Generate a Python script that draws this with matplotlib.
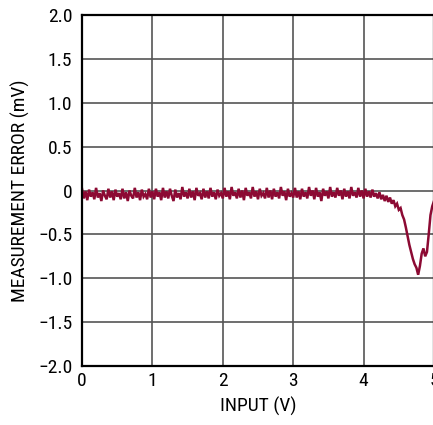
import numpy as np
import matplotlib
matplotlib.use("Agg")
import matplotlib.pyplot as plt
from matplotlib import font_manager

# ---- data ----
x_step = 0.025  # V between samples
err_0_1 = [0.02, -0.09, -0.01, -0.11, 0.01, -0.07, -0.02, -0.10, 0.03, -0.08,
           -0.03, -0.12, 0.00, -0.06, -0.10, 0.02, -0.08, -0.01, -0.11, 0.01,
           -0.07, -0.03, -0.10, 0.02, -0.09, -0.02, -0.12, 0.00, -0.06, -0.09,
           0.03, -0.08, -0.02, -0.11, 0.01, -0.07, -0.04, -0.10, 0.02, -0.08,
           -0.01]
err_1_2 = [-0.10, 0.02, -0.07, -0.02, -0.11, 0.03, -0.08, -0.01, -0.09, 0.02,
           -0.06, -0.12, 0.01, -0.08, -0.03, -0.10, 0.04, -0.07, -0.02, -0.09,
           0.02, -0.08, -0.01, -0.11, 0.03, -0.06, -0.03, -0.10, 0.02, -0.08,
           -0.01, -0.09, 0.03, -0.07, -0.02, -0.10, 0.01, -0.06, -0.03, -0.09]
err_2_3 = [0.03, -0.07, -0.01, -0.10, 0.04, -0.06, -0.02, -0.09, 0.02, -0.08,
           0.00, -0.11, 0.03, -0.06, -0.02, -0.09, 0.04, -0.07, -0.01, -0.10,
           0.02, -0.06, -0.03, -0.09, 0.03, -0.08, 0.00, -0.10, 0.02, -0.07,
           -0.02, -0.09, 0.04, -0.06, -0.01, -0.11, 0.02, -0.07, -0.03, -0.08]
err_3_4 = [0.03, -0.08, -0.01, -0.10, 0.02, -0.07, -0.02, -0.09, 0.04, -0.06,
           0.00, -0.10, 0.03, -0.07, -0.02, -0.12, 0.02, -0.06, -0.01, -0.09,
           0.04, -0.07, -0.02, -0.08, 0.03, -0.06, 0.00, -0.10, 0.02, -0.07,
           -0.01, -0.09, 0.04, -0.06, -0.02, -0.08, 0.03, -0.07, 0.00, -0.09]
err_4_5 = [0.02, -0.07, -0.01, -0.08, 0.01, -0.07, -0.03, -0.09, -0.02, -0.10,
           -0.05, -0.12, -0.06, -0.13, -0.08, -0.15, -0.11, -0.18, -0.15, -0.22,
           -0.20, -0.28, -0.33, -0.42, -0.52, -0.62, -0.70, -0.78, -0.84, -0.88,
           -0.96, -0.86, -0.72, -0.66, -0.75, -0.70, -0.50, -0.28, -0.18, -0.12]

x_ticks = [0, 1, 2, 3, 4, 5]
x_ticklabels = ["0", "1", "2", "3", "4", "5"]
y_ticks = [-2.0, -1.5, -1.0, -0.5, 0.0, 0.5, 1.0, 1.5, 2.0]
y_ticklabels = ["\u22122.0", "\u22121.5", "\u22121.0", "\u22120.5", "0",
                "0.5", "1.0", "1.5", "2.0"]

err = np.array(err_0_1 + err_1_2 + err_2_3 + err_3_4 + err_4_5)
volts = np.arange(len(err)) * x_step

# ---- fonts: prefer a condensed sans ----
fl = font_manager.fontManager.ttflist
names = sorted({f.name for f in fl})
pref = ["Liberation Sans Narrow", "Roboto Condensed", "Open Sans Condensed"]
narrow = [n for n in pref if n in names] + \
         [n for n in names if ("Narrow" in n or "Condensed" in n) and n not in pref]
if narrow:
    plt.rcParams["font.family"] = [narrow[0], "DejaVu Sans"]
    fs = 14
else:
    plt.rcParams["font.family"] = ["Liberation Sans", "DejaVu Sans"]
    fs = 11.5
plt.rcParams["font.weight"] = "normal"

fig = plt.figure(figsize=(4.33, 4.25), dpi=100)
ax = fig.add_axes([82 / 433, 59 / 425, 352 / 433, 351 / 425])

ax.plot(volts, err, color="#8c0a33", lw=1.8, solid_joinstyle="miter")

ax.set_xlim(0, 5)
ax.set_ylim(-2, 2)
ax.set_xticks(x_ticks)
ax.set_xticklabels(x_ticklabels)
ax.set_yticks(y_ticks)
ax.set_yticklabels(y_ticklabels)
ax.tick_params(axis="both", length=0, labelsize=fs, colors="black")
ax.tick_params(axis="x", pad=4)
ax.tick_params(axis="y", pad=7)

ax.grid(True, color="#555555", lw=1.2)
ax.set_axisbelow(True)
for s in ax.spines.values():
    s.set_color("black")
    s.set_linewidth(1.6)

ax.set_xlabel("INPUT (V)", fontsize=fs, labelpad=5)
ax.set_ylabel("MEASUREMENT ERROR (mV)", fontsize=fs, labelpad=6)

fig.savefig("out.png", dpi=100)
